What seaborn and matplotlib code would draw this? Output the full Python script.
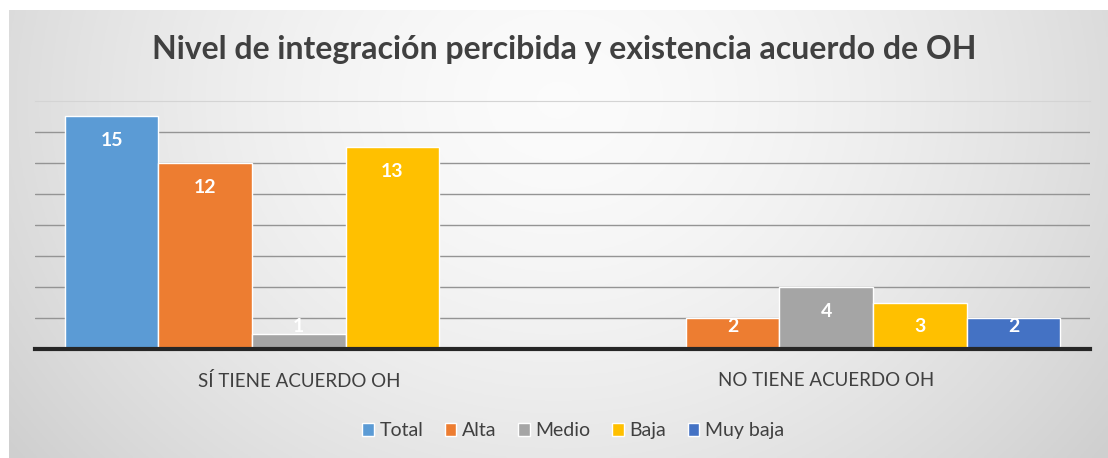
import numpy as np
import pandas as pd
import matplotlib
matplotlib.use('Agg')
import matplotlib.pyplot as plt
import seaborn as sns

# data
groups = ['SÍ TIENE ACUERDO OH', 'NO TIENE ACUERDO OH']
series = ['Total', 'Alta', 'Medio', 'Baja', 'Muy baja']
si_values = [15, 12, 1, 13, None]
no_values = [None, 2, 4, 3, 2]
colors = ['#5B9BD5', '#ED7D31', '#A5A5A5', '#FFC000', '#4472C4']

rows = []
for g, vals in zip(groups, [si_values, no_values]):
    for s, v in zip(series, vals):
        if v is not None:
            rows.append({'grupo': g, 'nivel': s, 'n': v})
df = pd.DataFrame(rows)

sns.set_style('white')
plt.rcParams['font.family'] = ['Lato', 'DejaVu Sans']

fig = plt.figure(figsize=(11.08, 4.58), dpi=100)
fig.patch.set_facecolor('white')

# gradient background box like the office chart area
bg = fig.add_axes([9 / 1108, 0, 1 - 9 / 1108, 1 - 10 / 458])
yy, xx = np.mgrid[0:1:200j, 0:1:400j]
r = np.sqrt(((xx - 0.5) / 0.62) ** 2 + ((yy - 0.2) / 1.3) ** 2)
shade = 0.985 - 0.17 * np.clip(r, 0, 1) ** 1.6
bg.imshow(np.dstack([shade, shade, shade]), aspect='auto', extent=[0, 1, 1, 0])
bg.set_axis_off()

ax = fig.add_axes([35 / 1108, 1 - 349 / 458, (1090 - 35) / 1108, (349 - 101) / 458])
ax.patch.set_alpha(0)

sns.barplot(data=df, x='grupo', y='n', hue='nivel', order=groups, hue_order=series,
            palette=colors, width=0.887, saturation=1, ax=ax, legend=True)

ax.set_ylim(0, 16)
ax.set_xlim(-0.5, 1.5)
ax.set_yticks(range(2, 16, 2))
ax.yaxis.grid(True, color='#949494', lw=1)
ax.set_axisbelow(True)
ax.tick_params(left=False, labelleft=False, bottom=False)
ax.set_xlabel('')
ax.set_ylabel('')
for side in ['left', 'right']:
    ax.spines[side].set_visible(False)
ax.spines['top'].set_color('#d4d4d4')
ax.spines['bottom'].set_color('#262626')
ax.spines['bottom'].set_linewidth(3)
ax.set_xticks(range(len(groups)))
ax.set_xticklabels(groups, fontsize=13.5, color='#404040')
ax.tick_params(axis='x', pad=13)

# value labels, white, inside end
for cont in ax.containers:
    for bar in cont:
        h = bar.get_height()
        if np.isnan(h) or h == 0:
            continue
        ax.text(bar.get_x() + bar.get_width() / 2, max(h - 1.55, 1.42), '%d' % h,
                ha='center', va='center', color='white', fontsize=14, fontweight='bold')

leg = ax.legend(loc='upper center', bbox_to_anchor=(0.51, -0.225), ncol=5, frameon=False,
                fontsize=14, handlelength=0.6, handleheight=0.6, handletextpad=0.3,
                columnspacing=1.1, labelcolor='#404040')

fig.text(0.509, 1 - 50 / 458, 'Nivel de integración percibida y existencia acuerdo de OH',
         ha='center', va='center', fontsize=23, fontweight='bold', color='#404040')

fig.savefig('out.png', dpi=100)
